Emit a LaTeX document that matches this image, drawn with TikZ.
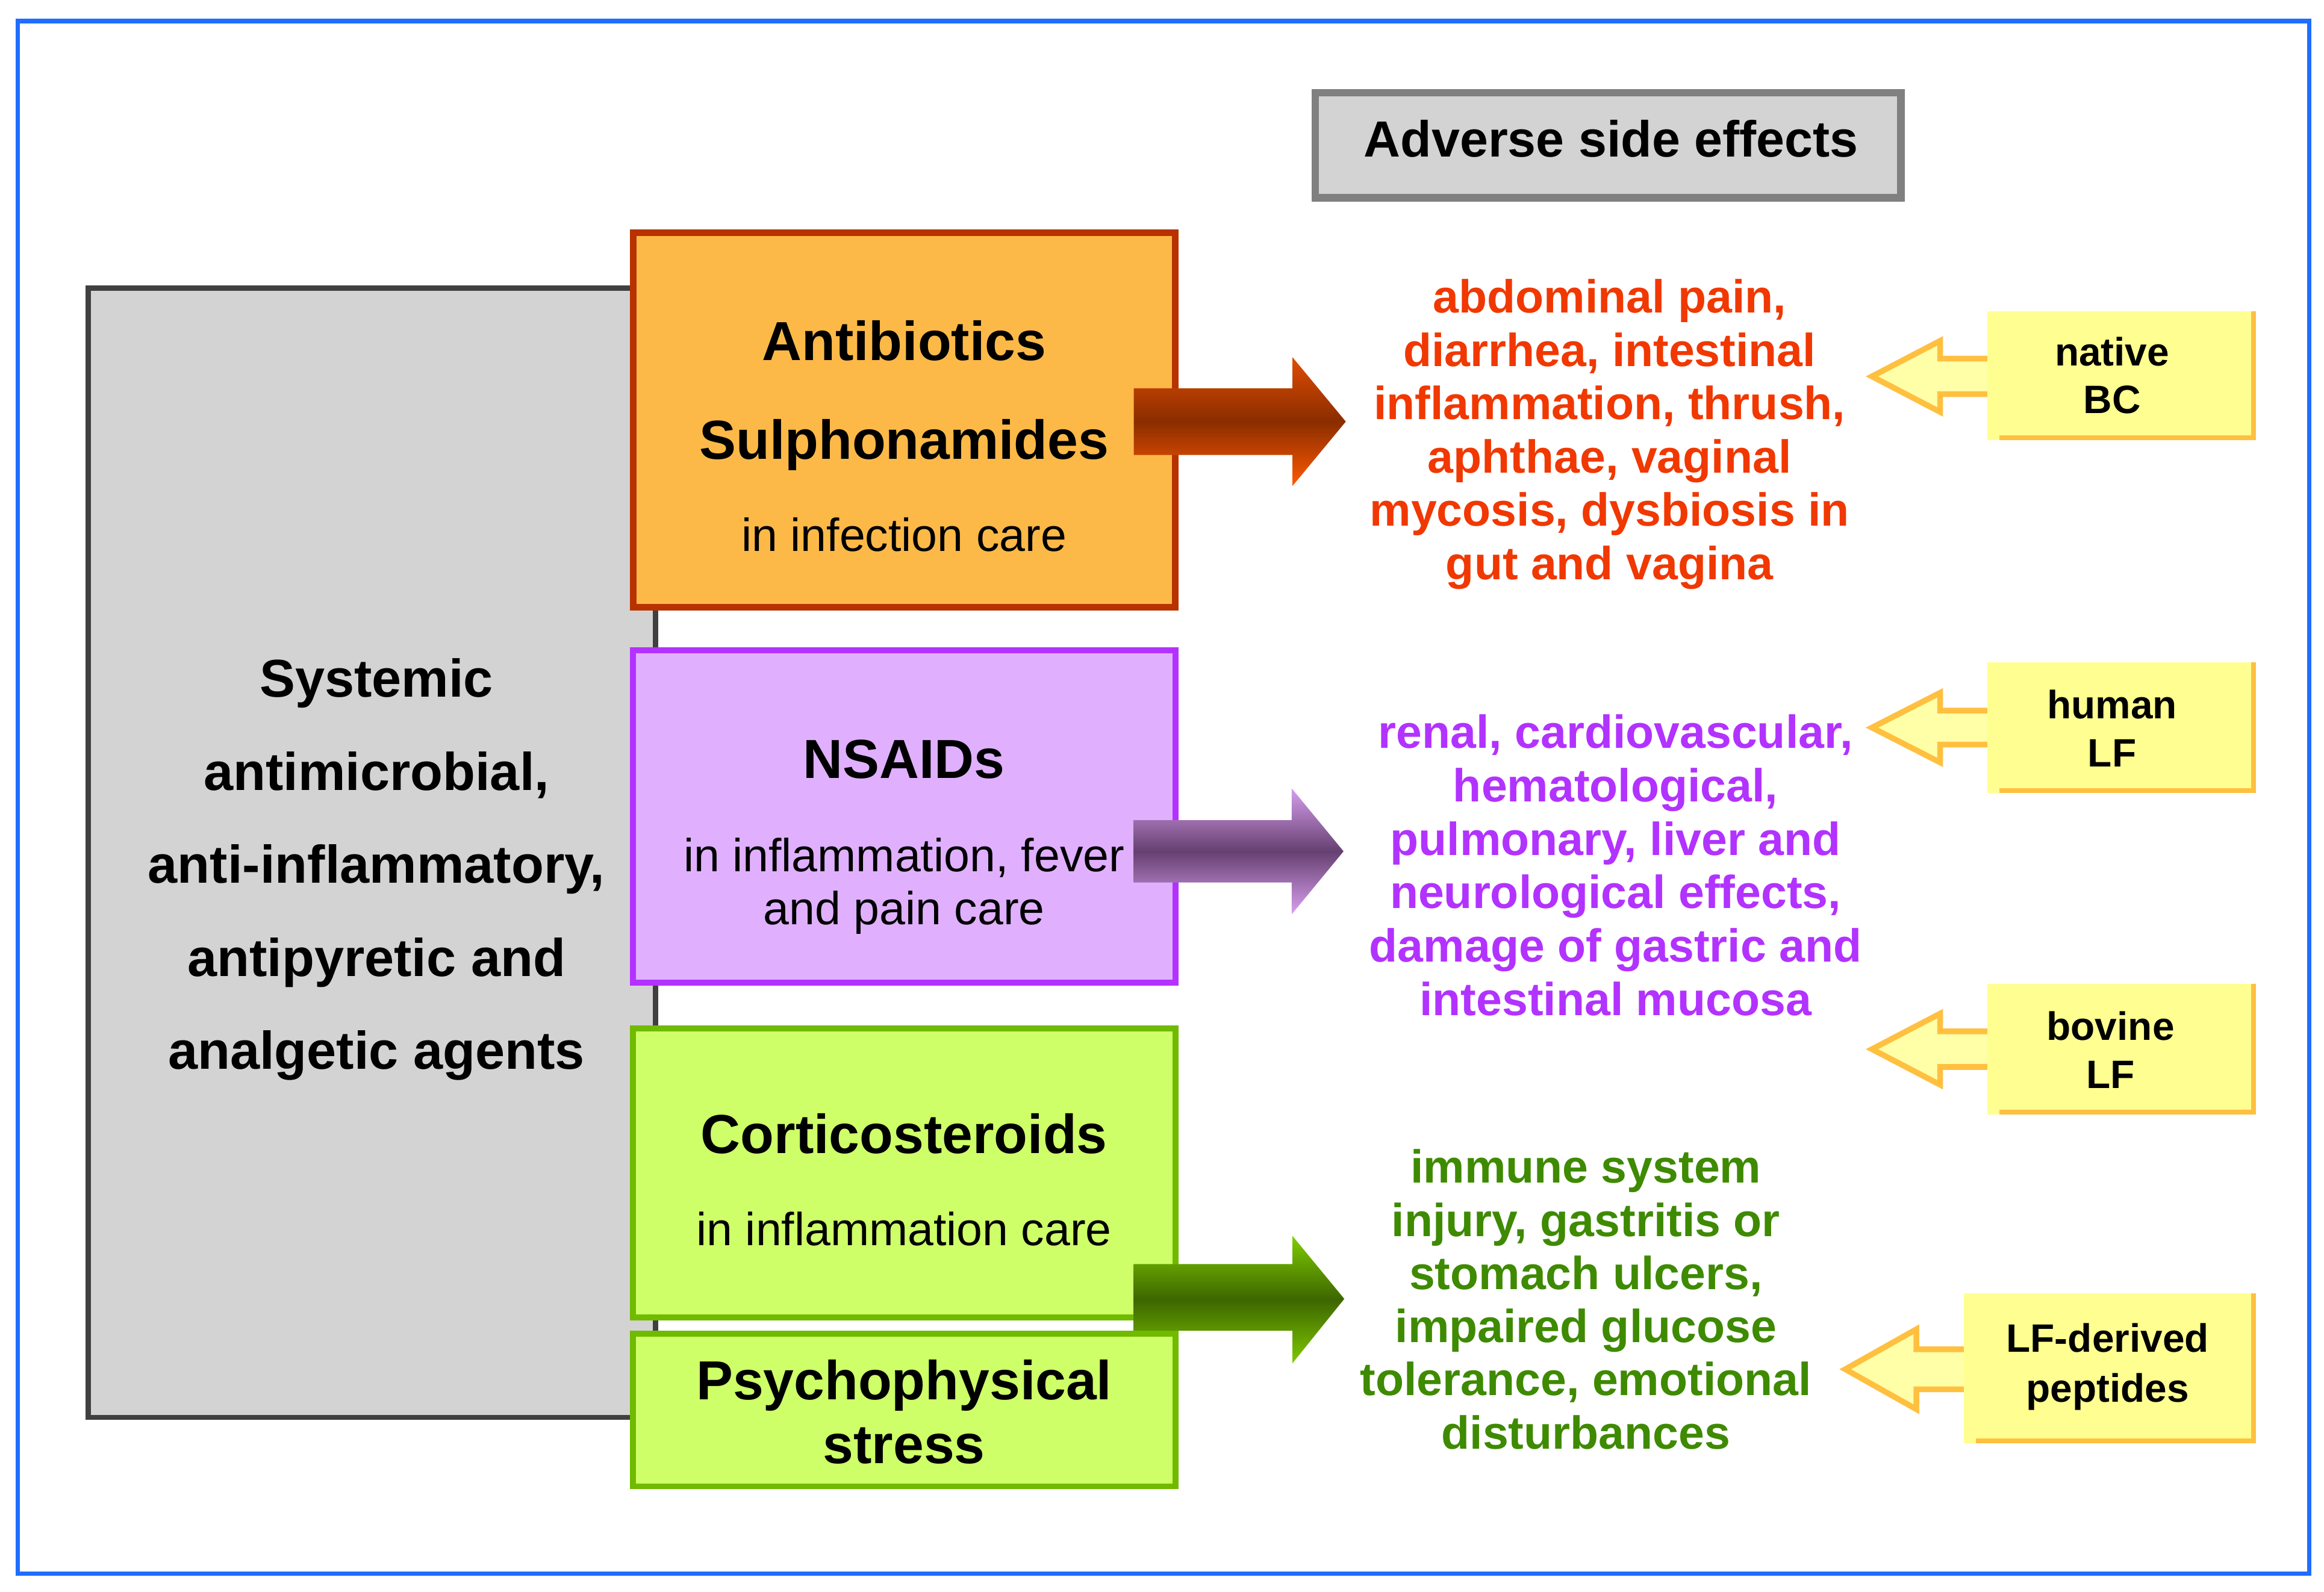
\documentclass[tikz,border=0pt]{standalone}
\usepackage{fontspec}
\setmainfont{Liberation Sans}
\definecolor{frameblue}{RGB}{30,110,255}
\definecolor{grayfill}{RGB}{211,211,211}
\definecolor{grayline}{RGB}{64,64,64}
\definecolor{advline}{RGB}{128,128,128}
\definecolor{orfill}{RGB}{253,185,72}
\definecolor{orline}{RGB}{184,50,0}
\definecolor{pufill}{RGB}{224,176,255}
\definecolor{puline}{RGB}{180,50,255}
\definecolor{grfill}{RGB}{206,255,104}
\definecolor{grline}{RGB}{112,186,0}
\definecolor{redtxt}{RGB}{240,56,0}
\definecolor{putxt}{RGB}{178,50,255}
\definecolor{grtxt}{RGB}{62,138,0}
\definecolor{yfill}{RGB}{255,255,145}
\definecolor{yafill}{RGB}{255,255,168}
\definecolor{yline}{RGB}{255,192,64}
\definecolor{oatop}{RGB}{224,76,0}
\definecolor{oamid}{RGB}{138,45,0}
\definecolor{oabot}{RGB}{255,90,0}
\definecolor{patop}{RGB}{214,158,238}
\definecolor{pamid}{RGB}{102,64,112}
\definecolor{pabot}{RGB}{216,160,240}
\definecolor{gatop}{RGB}{128,204,0}
\definecolor{gamid}{RGB}{61,102,0}
\definecolor{gabot}{RGB}{128,200,0}
\begin{document}
\begin{tikzpicture}[x=0.01cm,y=-0.01cm,
  title/.style={anchor=base, inner sep=0, font=\fontsize{10.55}{12}\selectfont\bfseries},
  subt/.style={anchor=base, inner sep=0, font=\fontsize{8.9}{10}\selectfont},
  agent/.style={anchor=base, inner sep=0, font=\fontsize{10.2}{12}\selectfont\bfseries},
  effect/.style={anchor=base, inner sep=0, font=\fontsize{8.9}{10}\selectfont\bfseries},
  ylab/.style={anchor=base, inner sep=0, font=\fontsize{7.6}{9}\selectfont\bfseries},
  drugbox/.style={inner sep=0, outer sep=0, minimum width=3.66cm},
  ybox/.style={fill=yfill, inner sep=0, outer sep=0},
  yedge/.style={draw=yline, line width=0.9pt},
  yarrow/.style={draw=yline, fill=yafill, line width=1.1pt, line join=miter}]
\useasboundingbox (0,0) rectangle (1568,1074.3);
% outer frame
\node[draw=frameblue, line width=0.85pt, inner sep=0, minimum width=15.45cm, minimum height=10.47cm] (frame) at (785,538) {};
% left gray box
\node[draw=grayline, fill=grayfill, line width=1pt, inner sep=0, minimum width=3.825cm, minimum height=7.615cm] (agents) at (251,575.5) {};
\foreach \t [count=\i from 0] in {Systemic,{antimicrobial,},{anti-inflammatory,},antipyretic and,analgetic agents}
  \node[agent] (ag\i) at (254,470.5+62.75*\i) {\t};
% header
\node[draw=advline, fill=grayfill, line width=1.42pt, inner sep=0, minimum width=3.95cm, minimum height=0.71cm] (adv) at (1085,98) {};
\node[anchor=base, inner sep=0, font=\fontsize{9.75}{11}\selectfont\bfseries] (advt) at (1087,106) {Adverse side effects};
% drug boxes
\node[drugbox, draw=orline, fill=orfill, line width=1.28pt, minimum width=3.655cm, minimum height=2.525cm] (anti) at (610,283.5) {};
\node[drugbox, draw=puline, fill=pufill, line width=1.14pt, minimum height=2.24cm] (nsaid) at (610,551) {};
\node[drugbox, draw=grline, fill=grfill, line width=1.14pt, minimum height=1.95cm] (cort) at (610,791.5) {};
\node[drugbox, draw=grline, fill=grfill, line width=1.14pt, minimum height=1.03cm] (psy) at (610,951.5) {};
% fat arrows
\shade[top color=oatop, bottom color=oabot, middle color=oamid]
  (765,262) -- (872,262) -- (872,241) -- (908,284.5) -- (872,328) -- (872,307) -- (765,307) -- cycle;
\shade[top color=patop, bottom color=pabot, middle color=pamid]
  (765,553.5) -- (871.5,553.5) -- (871.5,532) -- (906.5,574.5) -- (871.5,617) -- (871.5,595.5) -- (765,595.5) -- cycle;
\shade[top color=gatop, bottom color=gabot, middle color=gamid]
  (765,853) -- (872,853) -- (872,834) -- (907,876.5) -- (872,920) -- (872,898) -- (765,898) -- cycle;
% drug texts
\node[title] (t1) at (610,243) {Antibiotics};
\node[title] (t2) at (610,310) {Sulphonamides};
\node[subt] (t3) at (610,372) {in infection care};
\node[title] (t4) at (610,525) {NSAIDs};
\node[subt] (t5) at (610,588) {in inflammation, fever};
\node[subt] (t6) at (610,624) {and pain care};
\node[title] (t7) at (610,778.5) {Corticosteroids};
\node[subt] (t8) at (610,840.5) {in inflammation care};
\node[title] (t9) at (610,944.5) {Psychophysical};
\node[title] (t10) at (610,987.5) {stress};
% effects
\foreach \t [count=\i from 0] in {{abdominal pain,},{diarrhea, intestinal},{inflammation, thrush,},{aphthae, vaginal},{mycosis, dysbiosis in},{gut and vagina}}
  \node[effect, text=redtxt] (red\i) at (1086,211.1+36*\i) {\t};
\foreach \t [count=\i from 0] in {{renal, cardiovascular,},{hematological,},{pulmonary, liver and},{neurological effects,},{damage of gastric and},{intestinal mucosa}}
  \node[effect, text=putxt] (pur\i) at (1090,504.8+36.1*\i) {\t};
\foreach \t [count=\i from 0] in {{immune system},{injury, gastritis or},{stomach ulcers,},{impaired glucose},{tolerance, emotional},{disturbances}}
  \node[effect, text=grtxt] (grn\i) at (1070,798.4+35.86*\i) {\t};
% yellow arrows
\draw[yarrow] (1345,242) -- (1309,242) -- (1309,230) -- (1263,254) -- (1309,278) -- (1309,266) -- (1345,266);
\draw[yarrow] (1345,479.5) -- (1309,479.5) -- (1309,467.5) -- (1263,491) -- (1309,514.5) -- (1309,502.5) -- (1345,502.5);
\draw[yarrow] (1345,696) -- (1309,696) -- (1309,684) -- (1263,708) -- (1309,732) -- (1309,720) -- (1345,720);
\draw[yarrow] (1329,910.5) -- (1293,910.5) -- (1293,897) -- (1245,924) -- (1293,951) -- (1293,937.5) -- (1329,937.5);
% yellow boxes
\node[ybox, minimum width=1.81cm, minimum height=0.87cm] (nbc) at (1431.5,253.5) {};
\node[ybox, minimum width=1.81cm, minimum height=0.88cm] (hlf) at (1431.5,491) {};
\node[ybox, minimum width=1.81cm, minimum height=0.88cm] (blf) at (1431.5,708) {};
\node[ybox, minimum width=1.97cm, minimum height=1.01cm] (pep) at (1423.5,923.5) {};
\foreach \b in {nbc,hlf,blf,pep}
  \draw[yedge] ([shift={(-1.6,0)}]\b.north east) -- ([shift={(-1.6,-1.6)}]\b.south east) -- ([shift={(8,-1.6)}]\b.south west);
\node[ylab] (nbc1) at (1425,246.8) {native};
\node[ylab] (nbc2) at (1425,279) {BC};
\node[ylab] (hlf1) at (1425,484.8) {human};
\node[ylab] (hlf2) at (1425,517.3) {LF};
\node[ylab] (blf1) at (1424,702) {bovine};
\node[ylab] (blf2) at (1424,734.5) {LF};
\node[ylab] (pep1) at (1422,912.5) {LF-derived};
\node[ylab] (pep2) at (1422,946) {peptides};
\end{tikzpicture}
\end{document}
